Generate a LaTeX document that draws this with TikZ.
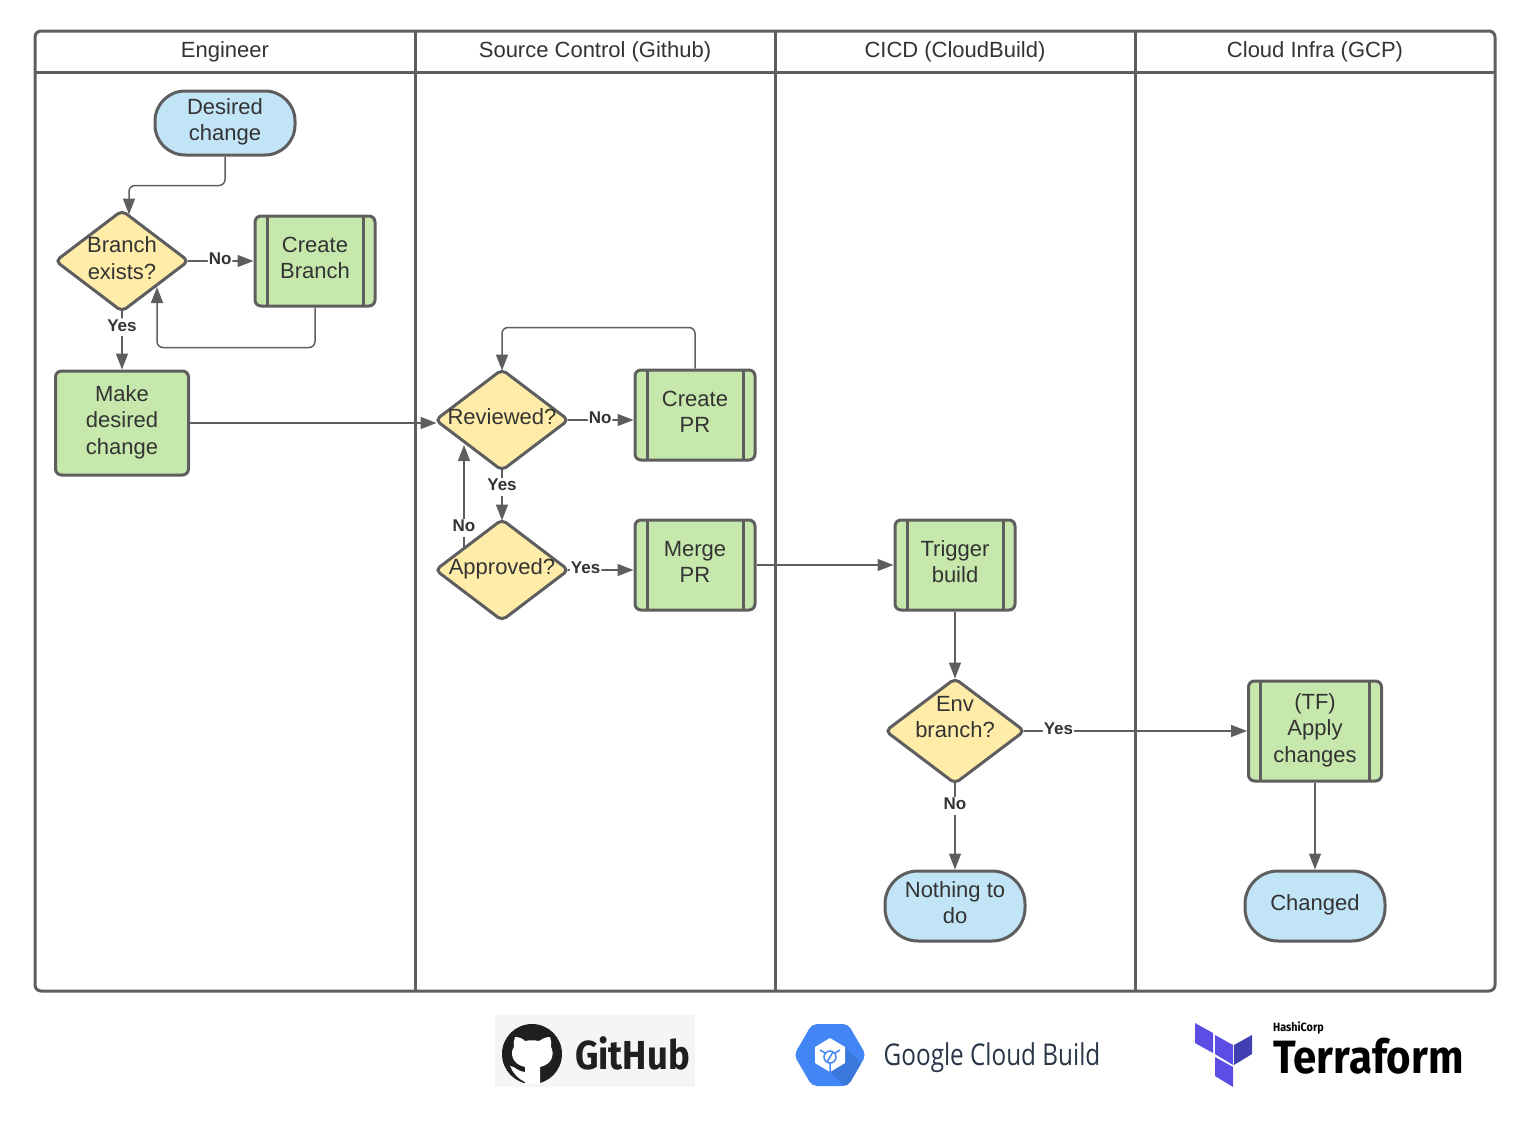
\documentclass[tikz,border=0pt]{standalone}
\usepackage{fontspec}
\setmainfont{Liberation Sans}
\newfontfamily\logofont[FakeStretch=0.9]{Fira Sans}
\newfontfamily\buildfont[FakeStretch=0.81]{Open Sans}
\usetikzlibrary{shapes.geometric,arrows.meta,calc}
\definecolor{edgegray}{HTML}{5E5E5E}
\definecolor{textgray}{HTML}{333333}
\definecolor{startblue}{HTML}{C1E4F7}
\definecolor{taskgreen}{HTML}{C7E8AC}
\definecolor{askyellow}{HTML}{FFECA9}
\definecolor{gcpblue}{HTML}{4285F4}
\definecolor{gcpdark}{HTML}{3B78DC}
\definecolor{buildink}{HTML}{2B3548}
\definecolor{tfpurple}{HTML}{5C4EE5}
\definecolor{tfdark}{HTML}{4040B2}
\tikzset{
  every node/.style={text=textgray,font=\fontsize{22}{26.5}\selectfont,align=center},
  lane/.style={draw=edgegray,line width=3pt},
  head/.style={inner sep=0pt},
  term/.style={draw=edgegray,line width=3pt,fill=startblue,rounded corners=30pt,minimum width=140pt,text depth=6.5pt},
  plain/.style={draw=edgegray,line width=3pt,fill=taskgreen,rounded corners=6pt,minimum width=120pt,minimum height=90pt,text depth=6.5pt},
  task/.style={plain,path picture={
    \draw[edgegray,line width=3pt] ($(path picture bounding box.north west)+(12,0)$)--($(path picture bounding box.south west)+(12,0)$);
    \draw[edgegray,line width=3pt] ($(path picture bounding box.north east)+(-12,0)$)--($(path picture bounding box.south east)+(-12,0)$);}},
  ask/.style={diamond,draw=edgegray,line width=3pt,fill=askyellow,rounded corners=5pt,inner sep=0pt,aspect=1.33,minimum width=134pt,minimum height=102pt},
  flow/.style={->,draw=edgegray,line width=1.5pt,rounded corners=6pt},
  fromask/.style={flow,shorten <=-3pt},
  lbl/.style={fill=white,inner sep=1pt,text depth=4pt,font=\fontsize{17}{20}\bfseries\selectfont}
}
\begin{document}
\begin{tikzpicture}[x=1pt,y=-1pt,>={Triangle[length=16pt,width=12pt]}]
  \useasboundingbox (0,0) rectangle (1529,1127);
  \draw[lane,rounded corners=6pt] (35,31) rectangle (1495,991);
  \draw[lane] (35,72)--(1495,72);
  \foreach \x in {415,775,1135} \draw[lane] (\x,31)--(\x,991);
  \node[head] (engineer) at (225,52) {Engineer};
  \node[head] (source) at (595,52) {Source Control (Github)};
  \node[head] (cicd) at (955,52) {CICD (CloudBuild)};
  \node[head] (infra) at (1315,52) {Cloud Infra (GCP)};

  \node[term,minimum height=64pt] (desired) at (225,123) {Desired\\change};
  \node[ask] (branch) at (122,261) {};
  \node[head] (branchtxt) at (122,258) {Branch\\exists?};
  \node[task] (createbranch) at (315,261) {Create\\Branch};
  \node[plain,minimum width=133pt,minimum height=104pt] (make) at (122,423) {Make\\desired\\change};

  \node[ask] (reviewed) at (502,420) {};
  \node[head] (reviewedtxt) at (502,417) {Reviewed?};
  \node[ask] (approved) at (502,570) {};
  \node[head] (approvedtxt) at (502,569) {Approved?};
  \node[task] (createpr) at (695,415) {Create\\PR};
  \node[task] (mergepr) at (695,565) {Merge\\PR};

  \node[task] (trigger) at (955,565) {Trigger\\build};
  \node[ask,minimum width=140pt,minimum height=106pt] (envbranch) at (955,731) {};
  \node[head] (envtxt) at (955,717) {Env\\branch?};
  \node[term,minimum height=70pt,rounded corners=33pt] (nothing) at (955,906) {Nothing to\\do};

  \node[task,minimum width=133pt,minimum height=100pt] (apply) at (1315,731) {(TF)\\Apply\\changes};
  \node[term,minimum height=70pt,rounded corners=33pt] (changed) at (1315,906) {Changed};

  \draw[flow] (desired.south) -- ++(0,29) -| ($(branch.north)+(7,6)$);
  \draw[fromask] (branch.east) -- node[lbl,pos=.47] (nobranch) {No} (branch.east -| createbranch.west);
  \draw[flow] (createbranch.south) -- ++(0,40) -| ($(branch.center)+(35,26)$);
  \draw[fromask] (branch.south) -- node[lbl,pos=.245] (yesbranch) {Yes} (make.north);
  \draw[flow] (make.east) -- ($(make.east -| reviewed.west)+(3,0)$);
  \draw[fromask] (reviewed.east) -- node[lbl,pos=.47] (noreview) {No} (reviewed.east -| createpr.west);
  \draw[flow] (createpr.north) -- ++(0,-41) -| ($(reviewed.north)+(0,3)$);
  \draw[fromask] (reviewed.south) -- node[lbl,pos=.3] (yesreview) {Yes} ($(approved.north)+(0,3)$);
  \draw[flow] ($(approved.center)+(-38,-20)$) -- node[lbl,pos=.21] (noapprove) {No} ($(reviewed.center)+(-38,25)$);
  \draw[fromask] (approved.east) -- node[lbl,pos=.24] (yesapprove) {Yes} (approved.east -| mergepr.west);
  \draw[flow] (mergepr.east) -- (trigger.west);
  \draw[flow] (trigger.south) -- ($(envbranch.north)+(0,2)$);
  \draw[fromask] (envbranch.east) -- node[lbl,pos=.145] (yesenv) {Yes} (apply.west);
  \draw[fromask] (envbranch.south) -- node[lbl,pos=.245] (noenv) {No} (nothing.north);
  \draw[flow] (apply.south) -- (changed.north);

  % logos
  \fill[black!4] (495,1015) rectangle (695,1087);
  \fill[black!88] (532,1054) circle (30);
  \fill[white] (515,1037) .. controls (520,1037) and (523,1039) .. (525,1041)
    .. controls (529,1040) and (535,1040) .. (539,1041)
    .. controls (542,1039) and (545,1037) .. (550,1037)
    .. controls (551,1041) and (552,1044) .. (551,1047)
    .. controls (554,1052) and (554,1064) .. (540,1067)
    -- (540,1084) -- (525,1084) -- (525,1067)
    .. controls (511,1064) and (510,1052) .. (514,1047)
    .. controls (513,1044) and (514,1041) .. (515,1037) -- cycle;
  \fill[white] (510,1066) .. controls (515,1066) and (518,1072) .. (525,1072)
    -- (525,1082) .. controls (518,1079) and (513,1073) .. (510,1066) -- cycle;
  \node[inner sep=0pt,text=black!88,font=\logofont\bfseries\fontsize{40.5}{42}\selectfont] (github) at (632.5,1053) {GitHub};

  \begin{scope}
    \clip[rounded corners=5pt] (794,1055) -- (812,1024) -- (848,1024) -- (866,1055) -- (848,1086) -- (812,1086) -- cycle;
    \fill[gcpblue] (790,1020) rectangle (870,1090);
    \fill[gcpdark] (845,1047) -- (870,1072) -- (870,1090) -- (849,1090) -- (830,1072) -- cycle;
  \end{scope}
  \fill[white] (830,1038) -- (845,1047) -- (845,1063) -- (830,1072) -- (815,1063) -- (815,1047) -- cycle;
  \draw[gcpblue,line width=1.5pt] (820,1050) -- (830,1056) -- (840,1050) (830,1056) -- (830,1072);
  \draw[gcpblue,line width=1.5pt,fill=white] (830,1057) circle (6);
  \draw[gcpblue,line width=1.5pt] (827,1062) -- (833,1052);
  \node[inner sep=0pt,text=buildink,font=\buildfont\fontsize{30}{32}\selectfont] (cloudbuild) at (992,1058) {Google Cloud Build};

  \fill[tfpurple] (1195,1023) -- (1213,1033) -- (1213,1053) -- (1195,1043) -- cycle;
  \fill[tfpurple] (1215,1035) -- (1233,1045) -- (1233,1065) -- (1215,1054) -- cycle;
  \fill[tfdark] (1234,1045) -- (1252,1035) -- (1252,1054) -- (1234,1065) -- cycle;
  \fill[tfpurple] (1215,1057) -- (1233,1067) -- (1233,1087) -- (1215,1076) -- cycle;
  \node[inner sep=0pt,anchor=west,text=black,font=\logofont\bfseries\fontsize{12}{14}\selectfont] (hashicorp) at (1273,1028) {HashiCorp};
  \node[inner sep=0pt,anchor=west,text=black,font=\logofont\bfseries\fontsize{46.7}{48}\selectfont] (terraform) at (1273,1056) {Terraform};
\end{tikzpicture}
\end{document}
